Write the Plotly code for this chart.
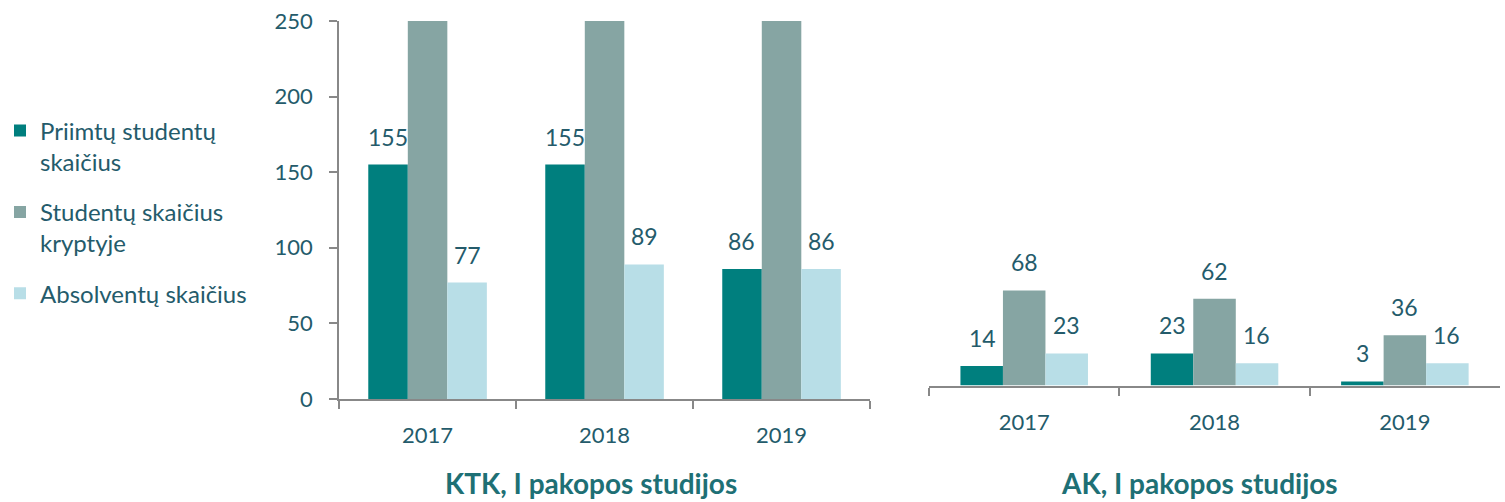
import plotly.graph_objects as go

# data
years = ['2017', '2018', '2019']
series_names = ['Priimtų studentų<br>skaičius', 'Studentų skaičius<br>kryptyje', 'Absolventų skaičius']

ktk_priimti = [155, 155, 86]
ktk_kryptyje = [400, 400, 400]   # cut off at 250 in the reference, real values not shown
ktk_absolventai = [77, 89, 86]

ak_priimti = [14, 23, 3]
ak_kryptyje = [68, 62, 36]
ak_absolventai = [23, 16, 16]

colors = ['#007F7E', '#86A5A3', '#B8DEE7']
label_color = '#245B6B'
title_color = '#1E7075'
axis_color = '#888888'
font_family = 'Lato'

fig = go.Figure()

ktk = [ktk_priimti, ktk_kryptyje, ktk_absolventai]
ak = [ak_priimti, ak_kryptyje, ak_absolventai]

for i in range(3):
    fig.add_trace(go.Bar(x=years, y=ktk[i], name=series_names[i], marker_color=colors[i],
                         marker_line_width=0, xaxis='x', yaxis='y', legendgroup=str(i),
                         showlegend=True))
    fig.add_trace(go.Bar(x=years, y=ak[i], name=series_names[i], marker_color=colors[i],
                         marker_line_width=0, xaxis='x2', yaxis='y2', legendgroup=str(i),
                         showlegend=False))

# value labels above bars (kryptyje labels on the left chart are off the top)
shifts_left = [-40, 0, 40]
shifts_right = [-42, 0, 42]
for i in range(3):
    for j in range(len(years)):
        if ktk[i][j] <= 250:
            fig.add_annotation(x=j, y=ktk[i][j], xref='x', yref='y', text=str(ktk[i][j]),
                               showarrow=False, xshift=shifts_left[i], yshift=12, yanchor='bottom')
        fig.add_annotation(x=j, y=ak[i][j], xref='x2', yref='y2', text=str(ak[i][j]),
                           showarrow=False, xshift=shifts_right[i], yshift=12, yanchor='bottom')

fig.update_annotations(font=dict(size=23, color=label_color))

fig.add_annotation(text='<b>KTK, I pakopos studijos</b>', x=0.393, y=0.037, xref='paper', yref='paper',
                   showarrow=False, font=dict(size=28, color=title_color), xanchor='center', yanchor='middle')
fig.add_annotation(text='<b>AK, I pakopos studijos</b>', x=0.797, y=0.037, xref='paper', yref='paper',
                   showarrow=False, font=dict(size=28, color=title_color), xanchor='center', yanchor='middle')

fig.update_layout(
    width=1505, height=502,
    margin=dict(l=0, r=0, t=0, b=0, autoexpand=False),
    paper_bgcolor='white', plot_bgcolor='white',
    font=dict(family=font_family, size=22, color=label_color),
    barmode='group', bargap=0.33, bargroupgap=0,
    legend=dict(x=0.0, y=0.784, xanchor='left', yanchor='top', valign='top',
                font=dict(size=24, color=label_color), tracegroupgap=16, itemwidth=30),
    xaxis=dict(type='category', range=[-0.5, 2.5], domain=[0.2253, 0.5781], showline=True,
               linecolor=axis_color, linewidth=2, automargin=False,
               ticks='outside', tickson='boundaries', ticklen=8, tickcolor=axis_color, tickwidth=2,
               ticklabelstandoff=16, tickfont=dict(size=22, color=label_color)),
    yaxis=dict(domain=[0.2052, 0.9582], range=[0, 250], dtick=50, showline=True, linecolor=axis_color,
               linewidth=2, ticks='outside', ticklen=8, tickcolor=axis_color, tickwidth=2, automargin=False,
               showgrid=False, zeroline=False, ticklabelstandoff=12, tickfont=dict(size=22, color=label_color)),
    xaxis2=dict(type='category', range=[-0.5, 2.5], domain=[0.6173, 0.9967], anchor='y2', showline=True,
                linecolor=axis_color, linewidth=2, automargin=False,
                ticks='outside', tickson='boundaries', ticklen=8, tickcolor=axis_color, tickwidth=2,
                ticklabelstandoff=16, tickfont=dict(size=22, color=label_color)),
    yaxis2=dict(domain=[0.2319, 0.5108], range=[0, 100], anchor='x2', visible=False, automargin=False),
)

# drop the default page margin so the figure sits at the top-left corner
fig.write_html('out.html', config={'displayModeBar': False},
               post_script="document.body.style.margin='0';")
